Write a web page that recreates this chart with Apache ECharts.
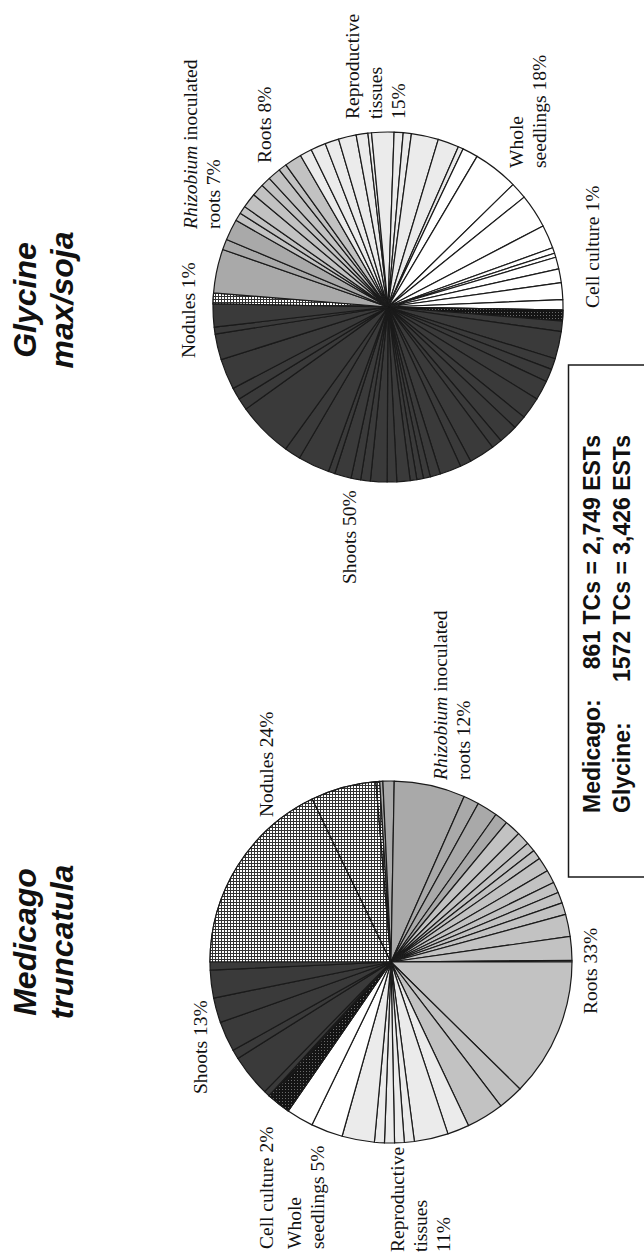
<!DOCTYPE html>
<html><head><meta charset="utf-8">
<script src="https://cdn.jsdelivr.net/npm/echarts@6/dist/echarts.min.js"></script>
<style>html,body{margin:0;padding:0;background:#fff}#c{width:644px;height:1258px}</style>
</head><body><div id="c"></div>
<script>
// ---- data ----
const categories = ['Nodules', 'Rhizobium inoculated roots', 'Roots', 'Reproductive tissues', 'Whole seedlings', 'Cell culture', 'Shoots'];
const medicagoPercent = [24, 12, 33, 11, 5, 2, 13];
const glycinePercent = [1, 7, 8, 15, 18, 1, 50];

// sub-library slices (relative sizes), clockwise from 9 o'clock
const medicagoNodules = [64.2, 21.0, 1.2];
const medicagoRhizobium = [1.0, 3.6, 22.8, 5.0, 6.6, 4.2];
const medicagoRoots = [5.2, 4.2, 3.0, 3.1, 4.6, 4.2, 3.5, 3.5, 3.8, 7.1, 7.6, 0.5, 44.6, 8.1, 12.0];
const medicagoReproductive = [7.0, 10.9, 3.2, 3.1, 3.2, 3.2, 10.4];
const medicagoWhole = [10.2, 8.7];
const medicagoCell = [7.0, 0.8];
const medicagoShoots = [1.9, 13.5, 3.0, 9.7, 8.0, 8.9, 2.6];

const glycineNodules = [3.6];
const glycineRhizobium = [14.6, 3.5, 7.0];
const glycineRoots = [2.7, 2.6, 4.9, 4.1, 3.3, 4.3, 2.7, 5.7];
const glycineReproductive = [4.0, 5.0, 4.6, 5.9, 3.9, 1.2, 7.4, 3.0, 2.7, 9.0, 7.0, 1.7];
const glycineWhole = [5.2, 15.0, 5.5, 11.3, 7.8, 1.9, 1.4, 3.9, 4.6, 5.6, 3.4];
const glycineCell = [3.6];
const glycineShoots = [3.5, 9.1, 3.7, 4.3, 6.5, 7.3, 4.5, 6.3, 3.5, 8.5, 3.7, 7.1, 3.4, 2.3, 2.2, 2.2, 4.4, 3.2, 5.5, 3.2, 3.2, 5.5, 2.2, 10.5, 5.4, 18.5, 4.0, 4.0, 10.2, 8.6, 2.3, 7.6];

const summaryNames = ['Medicago:', 'Glycine:'];
const summaryTCs = [861, 1572];
const summaryESTs = ['2,749', '3,426'];
const titles = ['Medicago\ntruncatula', 'Glycine\nmax/soja'];

// ---- styling ----
const catStyles = [
  {color: '#333333', decal: {symbol: 'rect', symbolSize: 1, color: '#ffffff', dashArrayX: [2, 1], dashArrayY: [2, 1], rotation: 0}},
  {color: '#a9a9a9'},
  {color: '#c2c2c2'},
  {color: '#ebebeb'},
  {color: '#ffffff'},
  {color: '#141414', decal: {symbol: 'rect', symbolSize: 1, color: '#6a6a6a', dashArrayX: [1, 2], dashArrayY: [1, 2], rotation: 0}},
  {color: '#3a3a3a'}
];

function buildData(groups) {
  const out = [];
  groups.forEach((g, c) => g.forEach(v => out.push({value: v, name: categories[c], itemStyle: catStyles[c]})));
  return out;
}
const medicagoData = buildData([medicagoNodules, medicagoRhizobium, medicagoRoots, medicagoReproductive, medicagoWhole, medicagoCell, medicagoShoots]);
const glycineData = buildData([glycineNodules, glycineRhizobium, glycineRoots, glycineReproductive, glycineWhole, glycineCell, glycineShoots]);

const SERIF = '"Liberation Serif","Times New Roman",serif';
const SANS = '"Liberation Sans",Arial,sans-serif';
const LBL = 19.5, LH = 23;

function labelText(c, pct, breaks) {
  const words = (categories[c] + ' ' + pct + '%').split(' ');
  if (c === 1) words[0] = '{it|' + words[0] + '}';
  let s = '';
  words.forEach((w, i) => { s += w; if (i < words.length - 1) s += (breaks.indexOf(i) >= 0 ? '\n' : ' '); });
  return s;
}
function txt(x, y, text, o) {
  return {
    type: 'text', x: x, y: y, rotation: Math.PI / 2, silent: true, z: 10,
    style: {
      text: text, fontFamily: o.family, fontSize: o.size, fontWeight: o.weight || 'normal',
      fontStyle: o.fstyle || 'normal', lineHeight: o.lh, fill: '#111',
      align: o.align || 'left', verticalAlign: 'top', textAlign: o.align || 'left', textVerticalAlign: 'top',
      rich: {it: {fontStyle: 'italic', fontFamily: o.family, fontSize: o.size, lineHeight: o.lh, fill: '#111'}}
    }
  };
}
// label layout: [category index, x (left of text block), y (start of text), word breaks]
const medicagoLabelLayout = [
  [0, 255, 817, []], [1, 429, 780, [1]], [2, 579, 1014, []], [6, 189, 1094, []],
  [5, 255, 1249, []], [4, 283, 1249, [0]], [3, 386, 1252, [0, 1]]
];
const glycineLabelLayout = [
  [0, 177, 358, []], [1, 179, 229, [1]], [2, 253, 163, []], [3, 341, 119, [0, 1]],
  [4, 505, 168, [0]], [5, 581, 308, []], [6, 338, 584, []]
];
const graphics = [];
medicagoLabelLayout.forEach(l => graphics.push(txt(l[1], l[2], labelText(l[0], medicagoPercent[l[0]], l[3]), {family: SERIF, size: LBL, lh: LH})));
glycineLabelLayout.forEach(l => graphics.push(txt(l[1], l[2], labelText(l[0], glycinePercent[l[0]], l[3]), {family: SERIF, size: LBL, lh: LH})));
// titles
graphics.push(txt(6, 942, titles[0], {family: SANS, size: 32, lh: 37, weight: 'bold', fstyle: 'italic', align: 'center'}));
graphics.push(txt(6, 300, titles[1], {family: SANS, size: 32, lh: 37, weight: 'bold', fstyle: 'italic', align: 'center'}));
// summary box
graphics.push({type: 'rect', silent: true, shape: {x: 568.5, y: 365, width: 120, height: 512}, style: {fill: 'none', stroke: '#1a1a1a', lineWidth: 1.5}});
graphics.push(txt(577, 813, summaryNames.join('\n'), {family: SANS, size: 23, lh: 30, weight: 'bold'}));
graphics.push(txt(577, 435, summaryTCs.map((t, i) => t + ' TCs = ' + summaryESTs[i] + ' ESTs').join('\n'), {family: SANS, size: 23, lh: 30, weight: 'bold', align: 'right'}));

const pieBase = {
  type: 'pie', startAngle: 180, clockwise: true, silent: true, animation: false,
  label: {show: false}, labelLine: {show: false}, avoidLabelOverlap: false,
  itemStyle: {borderColor: '#1a1a1a', borderWidth: 1.2}
};
const chart = echarts.init(document.getElementById('c'), null, {renderer: 'svg'});
chart.setOption({
  backgroundColor: '#ffffff',
  animation: false,
  series: [
    Object.assign({}, pieBase, {name: 'Medicago truncatula', center: [391, 962], radius: 181, data: medicagoData}),
    Object.assign({}, pieBase, {name: 'Glycine max/soja', center: [388, 307], radius: 175, startAngle: 179, data: glycineData})
  ],
  graphic: {elements: graphics}
});
</script></body></html>
